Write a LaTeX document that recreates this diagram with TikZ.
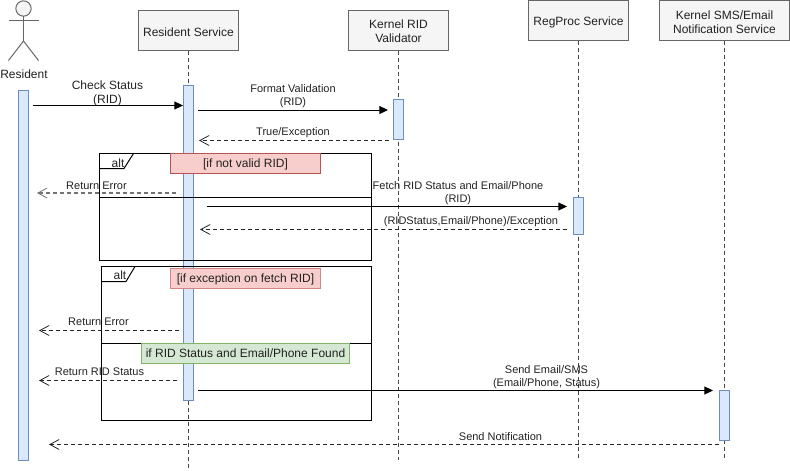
\documentclass[tikz,border=0pt]{standalone}
\usepackage{fontspec}
\setmainfont{Liberation Sans}
\usetikzlibrary{arrows.meta}
\definecolor{boxfill}{HTML}{F5F5F5}
\definecolor{boxline}{HTML}{666666}
\definecolor{barfill}{HTML}{DAE8FC}
\definecolor{barline}{HTML}{6C8EBF}
\definecolor{redfill}{HTML}{F8CECC}
\definecolor{redline}{HTML}{B85450}
\definecolor{greenfill}{HTML}{D5E8D4}
\definecolor{greenline}{HTML}{82B366}
\definecolor{txt}{HTML}{222222}
\tikzset{
  x=0.75pt, y=-0.75pt,
  every node/.style={inner sep=0pt, outer sep=0pt, text=txt},
  lbl/.style={align=center, font=\fontsize{8.25}{9.75}\selectfont},
  lbllarge/.style={align=center, font=\fontsize{9}{10.5}\selectfont},
  partbox/.style={draw=boxline, fill=boxfill, line width=0.75pt, minimum height=30pt, align=center, text depth=0pt, font=\fontsize{9}{10.5}\selectfont},
  actbar/.style={draw=barline, fill=barfill, line width=0.75pt, minimum width=7.5pt},
  lifeline/.style={draw=boxline!70!black, line width=0.75pt, dash pattern=on 3pt off 2.25pt},
  actorline/.style={draw=boxline, line width=0.75pt},
  frameline/.style={draw=black, line width=0.75pt},
  callmsg/.style={draw=black, line width=0.75pt, -{Triangle[length=6.5pt,width=6pt]}},
  retmsg/.style={draw=black!85, line width=0.75pt, dash pattern=on 3pt off 2.25pt, -{Straight Barb[length=7pt,width=7.5pt,line width=0.6pt]}},
  rednote/.style={draw=redline, fill=redfill, line width=0.75pt, minimum width=112.5pt, minimum height=15pt, text height=6.6pt, text depth=0pt, font=\fontsize{9}{10.5}\selectfont},
  greennote/.style={draw=greenline, fill=greenfill, line width=0.75pt, minimum width=156.5pt, minimum height=15pt, text height=6.6pt, text depth=0pt, font=\fontsize{9}{10.5}\selectfont},
}
\begin{document}
\begin{tikzpicture}
\useasboundingbox (0,0) rectangle (790,471);
% participants
\node[partbox, minimum width=75pt, text height=8.7pt] (svc) at (188.5,30.5) {Resident Service};
\node[partbox, minimum width=75pt, text height=18.5pt] (rid) at (398.5,30.5) {Kernel RID\\Validator};
\node[partbox, minimum width=75pt, text height=8pt] (reg) at (578.5,20.5) {RegProc Service};
\node[partbox, minimum width=97.5pt, text height=18.8pt] (sms) at (724.5,20.5) {Kernel SMS/Email\\Notification Service};
% lifeline ends
\coordinate (svcend) at (188.5,468);
\coordinate (ridend) at (398.5,460);
\coordinate (regend) at (578.5,460);
\coordinate (smsend) at (724.5,458);
\draw[lifeline] (svc.south) -- (svcend);
\draw[lifeline] (rid.south) -- (ridend);
\draw[lifeline] (reg.south) -- (regend);
\draw[lifeline] (sms.south) -- (smsend);
% actor
\node[circle, draw=boxline, fill=boxfill, line width=0.75pt, minimum size=11.5pt] (head) at (23.5,8.5) {};
\coordinate (hip) at (23.5,41);
\coordinate (armL) at (8.5,20.5);
\coordinate (armR) at (38.5,20.5);
\coordinate (legL) at (8.5,60.5);
\coordinate (legR) at (38.5,60.5);
\draw[actorline] (head.south) -- (hip);
\draw[actorline] (armL) -- (armR);
\draw[actorline] (legL) -- (hip) -- (legR);
\node[lbllarge] (actorlabel) at (24,74.5) {Resident};
% activations
\node[actbar, minimum height=277.5pt] (barres) at (23.5,275.5) {};
\node[actbar, minimum height=236.25pt] (barsvc) at (188.5,243) {};
\node[actbar, minimum height=30pt] (barrid) at (398.5,119.5) {};
\node[actbar, minimum height=27.75pt] (barreg) at (578.5,216) {};
\node[actbar, minimum height=37.5pt] (barsms) at (724.5,415.5) {};
% alt frame 1
\coordinate (f1a) at (99.5,153.5);
\coordinate (f1b) at (371.5,260.5);
\draw[frameline] (f1a) rectangle (f1b);
\coordinate (t1a) at (99.5,168.5);
\coordinate (t1b) at (124,168.5);
\coordinate (t1c) at (133.5,153.5);
\draw[frameline] (t1a) -- (t1b) -- (t1c);
\node[lbllarge] (alt1) at (118,163) {alt};
\coordinate (d1a) at (99.5,197.5);
\coordinate (d1b) at (371.5,197.5);
\draw[frameline] (d1a) -- (d1b);
\node[rednote] (note1) at (245.5,163.5) {[if not valid RID]};
% alt frame 2
\coordinate (f2a) at (101.5,266.5);
\coordinate (f2b) at (371.5,420.5);
\draw[frameline] (f2a) rectangle (f2b);
\coordinate (t2a) at (101.5,281.5);
\coordinate (t2b) at (126,281.5);
\coordinate (t2c) at (135,266.5);
\draw[frameline] (t2a) -- (t2b) -- (t2c);
\node[lbllarge] (alt2) at (120,275.5) {alt};
\coordinate (d2a) at (101.5,343.5);
\coordinate (d2b) at (371.5,343.5);
\draw[frameline] (d2a) -- (d2b);
\node[rednote, draw=redline!60!redfill] (note2) at (245.5,278.5) {[if exception on fetch RID]};
\node[greennote] (note3) at (245.5,353.5) {if RID Status and Email/Phone Found};
% message ends
\coordinate (m1a) at (33,105.5);   \coordinate (m1b) at (183,105.5);
\coordinate (m2a) at (198,110);    \coordinate (m2b) at (388,110);
\coordinate (m3a) at (389,140.5);  \coordinate (m3b) at (199,140.5);
\coordinate (m4a) at (176,193);    \coordinate (m4b) at (37,193);
\coordinate (m5a) at (207,206.5);  \coordinate (m5b) at (567,206.5);
\coordinate (m6a) at (567,229.5);  \coordinate (m6b) at (200,229.5);
\coordinate (m7a) at (179,330.5);  \coordinate (m7b) at (39,330.5);
\coordinate (m8a) at (177,380.5);  \coordinate (m8b) at (39,380.5);
\coordinate (m9a) at (198,390.5);  \coordinate (m9b) at (713,390.5);
\coordinate (m10a) at (719,444.5); \coordinate (m10b) at (49,444.5);
\draw[callmsg] (m1a) -- (m1b);
\draw[callmsg] (m2a) -- (m2b);
\draw[retmsg] (m3a) -- (m3b);
\draw[retmsg, draw=black!55, line width=1pt] (m4a) -- (m4b);
\draw[callmsg] (m5a) -- (m5b);
\draw[retmsg] (m6a) -- (m6b);
\draw[retmsg] (m7a) -- (m7b);
\draw[retmsg] (m8a) -- (m8b);
\draw[callmsg] (m9a) -- (m9b);
\draw[retmsg] (m10a) -- (m10b);
% message labels
\node[lbllarge] (l1) at (107.5,93) {Check Status\\(RID)};
\node[lbl] (l2) at (293,96.5) {Format Validation\\(RID)};
\node[lbl] (l3) at (293,133) {True/Exception};
\node[lbl] (l4) at (96.5,185.5) {Return Error};
\node[lbl] (l5) at (458,193) {Fetch RID Status and Email/Phone\\(RID)};
\node[lbl] (l6) at (471,221.5) {(RIDStatus,Email/Phone)/Exception};
\node[lbl] (l7) at (98.5,322) {Return Error};
\node[lbl] (l8) at (99.5,372) {Return RID Status};
\node[lbl] (l9) at (546.5,377) {Send Email/SMS\\(Email/Phone, Status)};
\node[lbl] (l10) at (500.5,436.5) {Send Notification};
\end{tikzpicture}
\end{document}
